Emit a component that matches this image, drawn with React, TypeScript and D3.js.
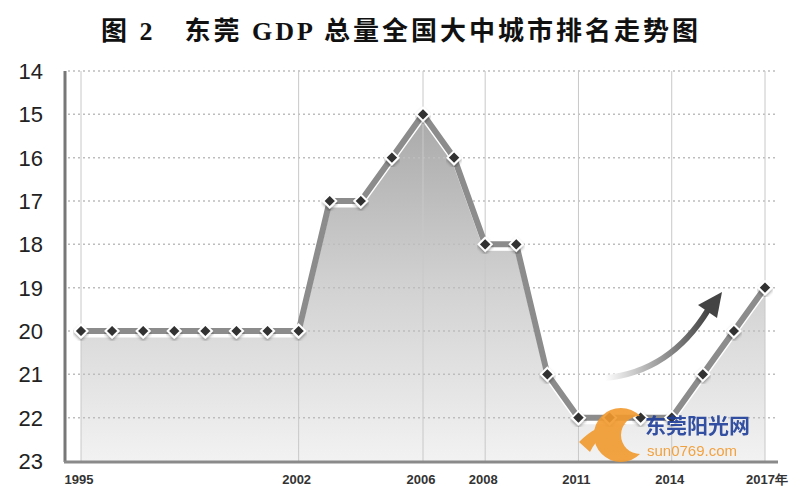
import React from "react";
import * as d3 from "d3";

const years = [1995,1996,1997,1998,1999,2000,2001,2002,2003,2004,2005,2006,2007,2008,2009,2010,2011,2012,2013,2014,2015,2016,2017];
const ranks = [20,20,20,20,20,20,20,20,17,17,16,15,16,18,18,21,22,22,22,22,21,20,19];
const yTicks = [14,15,16,17,18,19,20,21,22,23];
const xTickYears = [1995,2002,2006,2008,2011,2014,2017];
const xTickLabels = ["1995","2002","2006","2008","2011","2014","2017年"];
const title = "图 2　东莞 GDP 总量全国大中城市排名走势图";

export default function App() {
  const W = 800, H = 500;
  const x = d3.scaleLinear().domain([1995, 2017]).range([81, 765]);
  const y = d3.scaleLinear().domain([14, 23]).range([71, 461]);
  const pts = years.map((yr, i) => [x(yr), y(ranks[i])] as [number, number]);
  const line = d3.line<[number, number]>().x(d => d[0]).y(d => d[1]);
  const area = d3.area<[number, number]>().x(d => d[0]).y0(y(23)).y1(d => d[1] + 6);
  const diamond = d3.symbol().type(d3.symbolDiamond2).size(110)();
  return (
    <svg width={W} height={H} style={{ position: "absolute", left: 0, top: 0, background: "#fff" }}>
      <defs>
        <linearGradient id="ag" x1="0" y1={y(15)} x2="0" y2={y(23)} gradientUnits="userSpaceOnUse">
          <stop offset="0" stopColor="#a9a9a9" />
          <stop offset="0.5" stopColor="#d2d2d2" />
          <stop offset="1" stopColor="#f2f2f2" />
        </linearGradient>
        <linearGradient id="arr" x1="0" y1="0" x2="1" y2="0">
          <stop offset="0" stopColor="#ffffff" />
          <stop offset="1" stopColor="#444" />
        </linearGradient>
        <filter id="sh" x="-10%" y="-10%" width="120%" height="130%">
          <feDropShadow dx="0" dy="2" stdDeviation="1.5" floodColor="#000" floodOpacity="0.35" />
        </filter>
      </defs>
      <text x={401} y={40} textAnchor="middle" fontFamily="'Liberation Serif','Noto Sans CJK SC',serif" fontWeight="bold" fontSize={26} fill="#111" letterSpacing="3">{title}</text>
      {/* area */}
      <path d={area(pts) || ""} fill="url(#ag)" />
      {/* horizontal dotted grid */}
      {yTicks.slice(0, -1).map(t => (
        <line key={t} x1={68} x2={775} y1={y(t)} y2={y(t)} stroke="#bdbdbd" strokeWidth={1.5} strokeDasharray="2 3" />
      ))}
      {/* vertical grid */}
      {xTickYears.map(t => (
        <line key={t} x1={x(t)} x2={x(t)} y1={y(14)} y2={y(23)} stroke="#c8c8c8" strokeWidth={1} />
      ))}
      {/* axes */}
      <line x1={65} x2={65} y1={y(14)} y2={y(23) + 1} stroke="#777" strokeWidth={3} />
      <line x1={64} x2={778} y1={y(23) + 1} y2={y(23) + 1} stroke="#8a8a8a" strokeWidth={3} />
      {/* line */}
      <path d={line(pts) || ""} fill="none" stroke="#fff" strokeWidth={3} transform="translate(0,5)" />
      <path d={line(pts) || ""} fill="none" stroke="#8c8c8c" strokeWidth={6} strokeLinejoin="round" />
      {/* markers */}
      {pts.map((p, i) => (
        <path key={i} d={diamond || ""} transform={`translate(${p[0]},${p[1]})`} fill="#333" stroke="#fff" strokeWidth={2} filter="url(#sh)" />
      ))}
      {/* y labels */}
      {yTicks.map(t => (
        <text key={t} x={43} y={y(t)} dy="0.36em" textAnchor="end" fontFamily="'Liberation Sans',Arial,sans-serif" fontSize={22} fill="#222">{t}</text>
      ))}
      {/* x labels */}
      {xTickYears.map((t, i) => (
        <text key={t} x={x(t) + (i === xTickYears.length - 1 ? 2 : -2)} y={484} textAnchor="middle" fontFamily="'Liberation Sans',Arial,sans-serif" fontSize={13} fontWeight="bold" fill="#333">{xTickLabels[i]}</text>
      ))}
      {/* trend arrow */}
      <path d="M 605 378 Q 670 372 708 310" fill="none" stroke="url(#arr)" strokeWidth={6} strokeLinecap="round" />
      <path d="M 722 292 L 698 305 L 717 318 Z" fill="#444" />
      {/* watermark */}
      <g opacity={0.9}>
        <path d="M 640 416 A 27 27 0 1 0 640 454 A 19 19 0 1 1 640 416 Z" fill="#f29a2e" />
        <path d="M 579 442 Q 600 420 626 424 Q 600 431 590 452 Z" fill="#f29a2e" />
        <text x={645} y={433} fontFamily="'Noto Sans CJK SC',sans-serif" fontWeight="bold" fontSize={21} fill="#1f3f9a">东莞阳光网</text>
        <text x={647} y={456} fontFamily="'Liberation Sans',Arial,sans-serif" fontSize={15} fill="#f29a2e">sun0769.com</text>
      </g>
    </svg>
  );
}
